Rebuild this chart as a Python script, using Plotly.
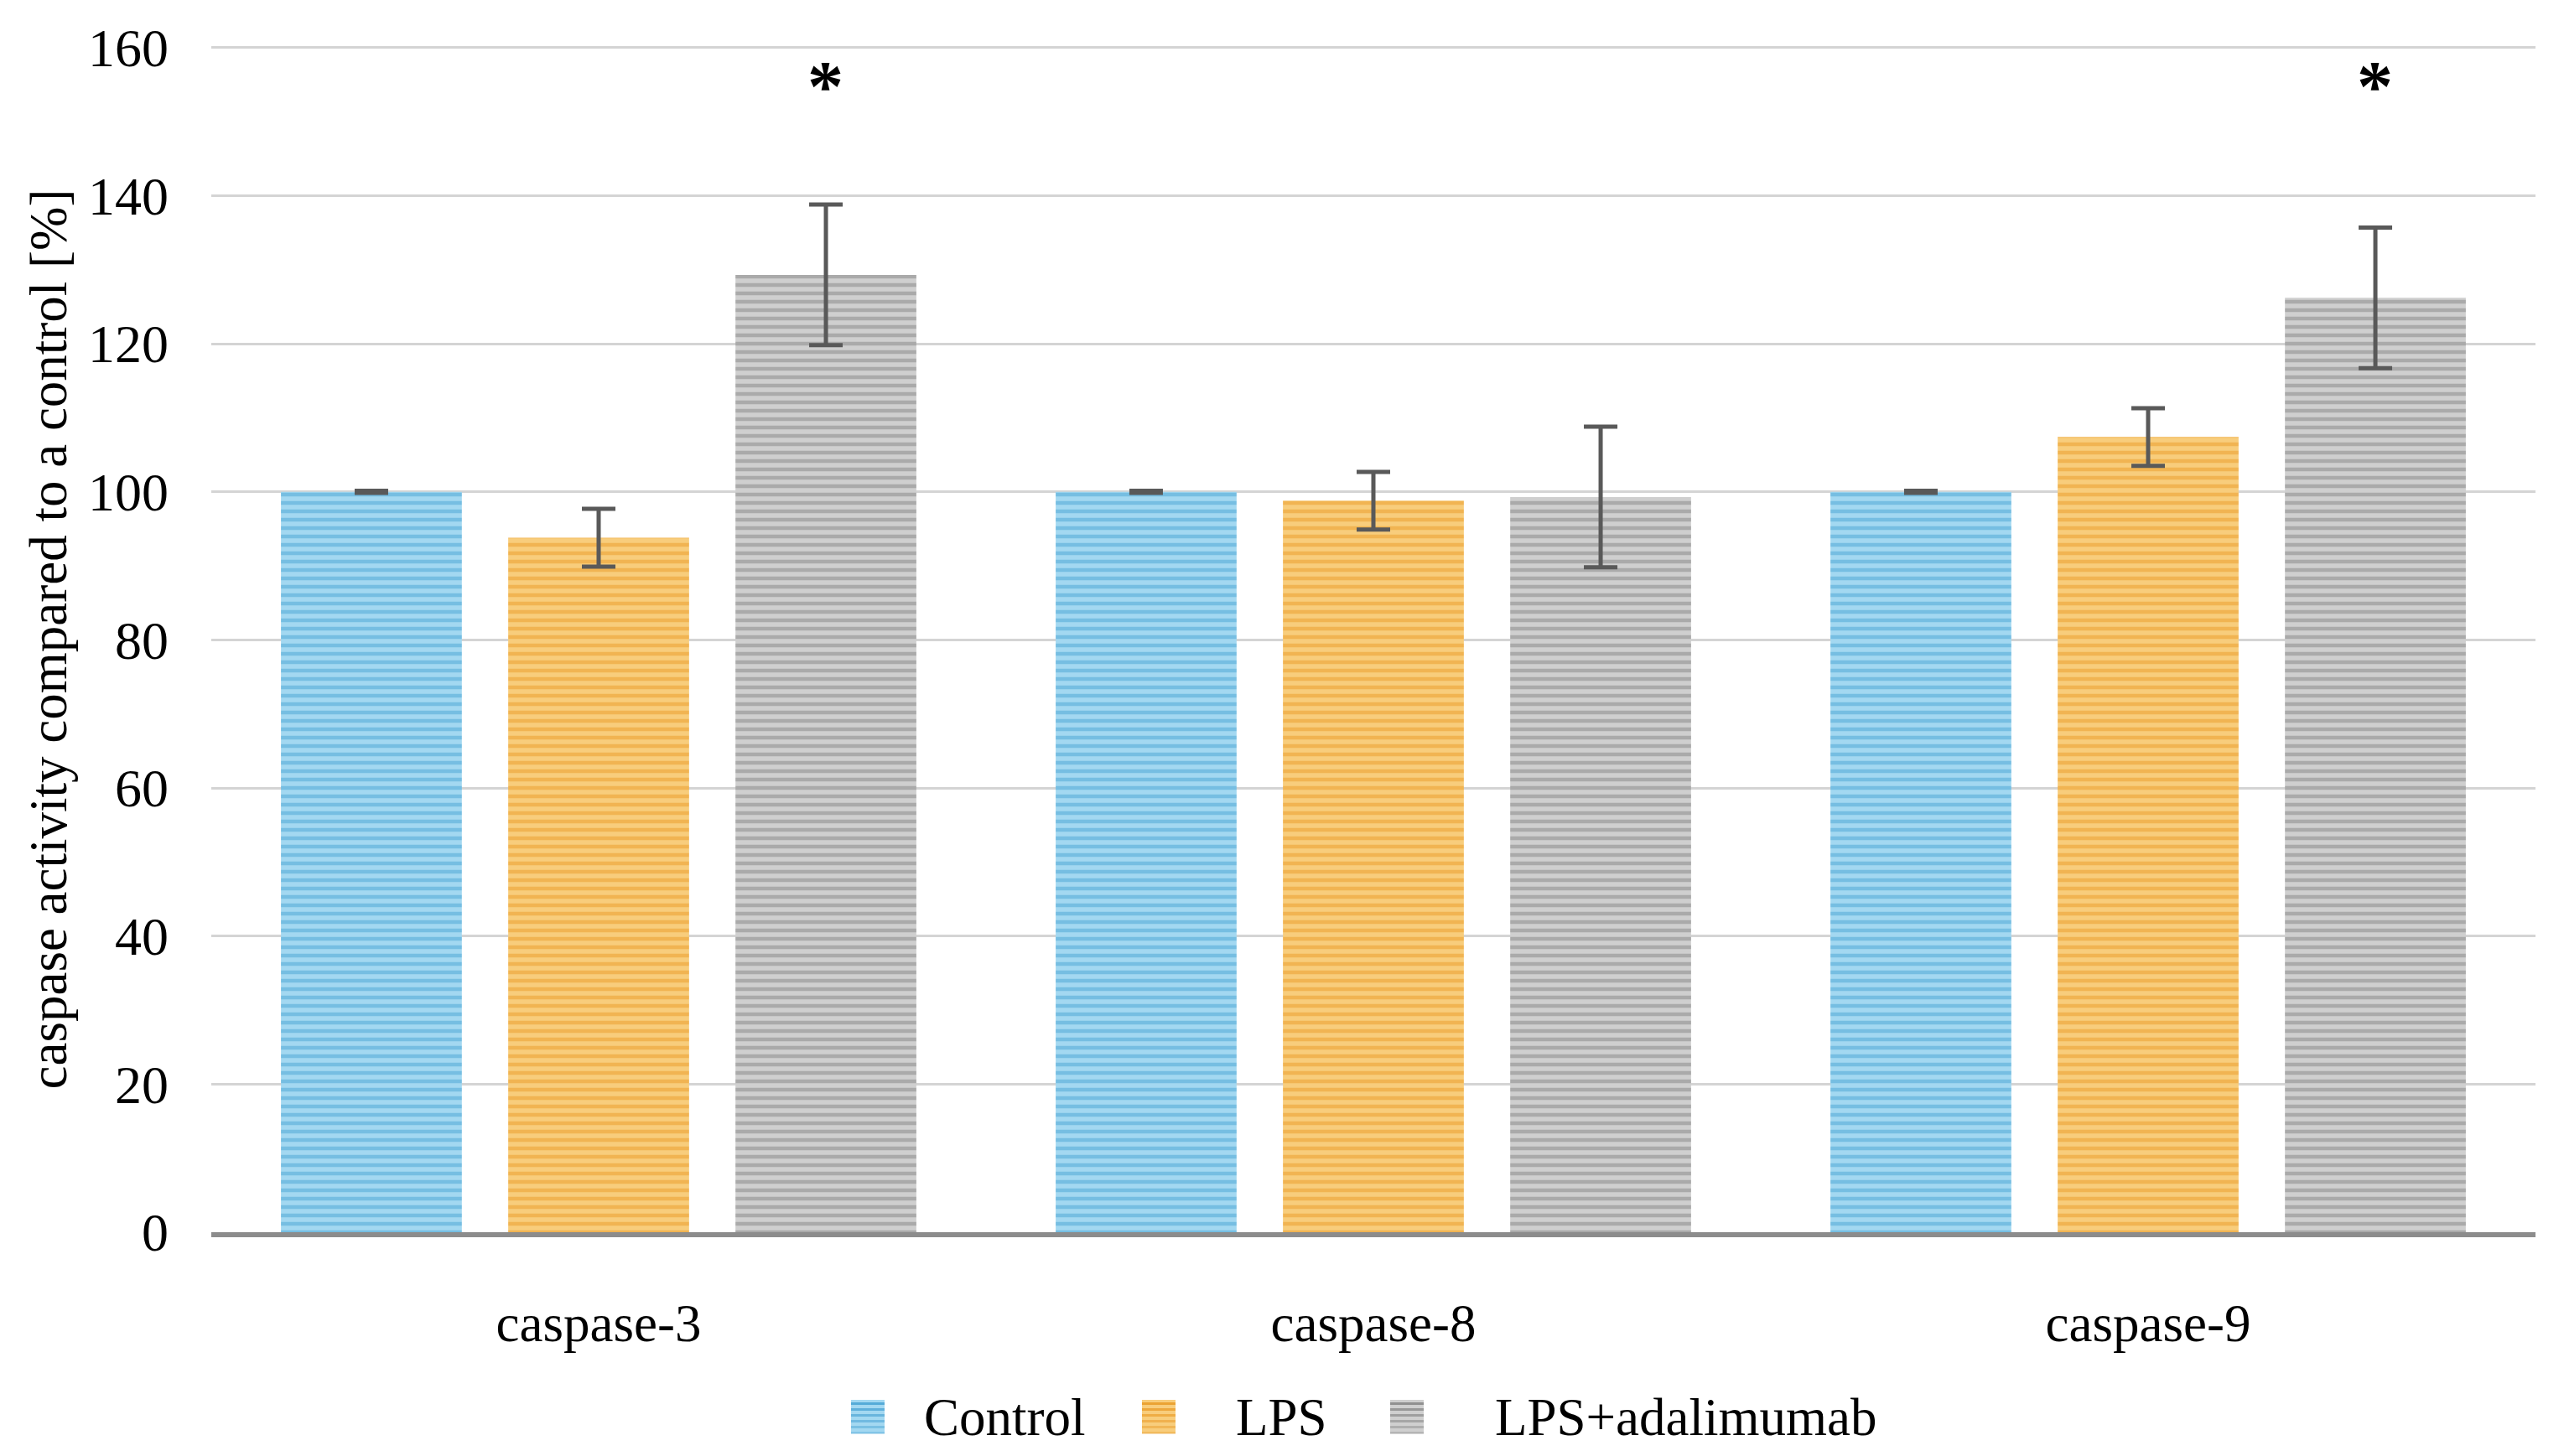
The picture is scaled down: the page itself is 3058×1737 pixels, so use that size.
import plotly.graph_objects as go

categories = ["caspase-3", "caspase-8", "caspase-9"]
series_names = ["Control", "LPS", "LPS+adalimumab"]
control_vals = [100.0, 100.0, 100.0]
control_err = [0.15, 0.15, 0.15]
lps_vals = [93.8, 98.8, 107.4]
lps_err = [3.9, 3.9, 3.9]
ada_vals = [129.3, 99.3, 126.2]
ada_err = [9.5, 9.5, 9.5]
star_cats = ["caspase-3", "caspase-9"]
star_y = [154.8, 154.8]
y_ticks = [0, 20, 40, 60, 80, 100, 120, 140, 160]

FONT = "Liberation Serif"
bg_colors = ["#a3d8f1", "#f8cd7c", "#cfcfcf"]
fg_colors = ["#49a3d3", "#e99b28", "#858585"]
vals = [control_vals, lps_vals, ada_vals]
errs = [control_err, lps_err, ada_err]

W, H = 3058, 1737
ML, MR, MT, MB = 244, 42, 47, 275
PW = W - ML - MR
PH = H - MT - MB

fig = go.Figure()
for name, v, e, bg, fg in zip(series_names, vals, errs, bg_colors, fg_colors):
    fig.add_trace(go.Bar(
        name=name, x=categories, y=v, showlegend=False,
        marker=dict(color=bg, line=dict(width=0),
                    pattern=dict(shape="-", fgcolor=fg, bgcolor=bg, size=10, solidity=0.45)),
        error_y=dict(type="data", array=e, visible=True, color="#595959", thickness=5, width=20),
    ))

for c, yv in zip(star_cats, star_y):
    fig.add_annotation(x=c, y=yv, text="<b>*</b>", showarrow=False, xshift=270,
                       font=dict(family=FONT, size=86, color="black"), yanchor="middle")

# custom legend (figure pixel positions -> paper coords)
def px_x(x):
    return (x - ML) / PW

def px_y(y):
    return (H - MB - y) / PH

legend_sym_x = [1007, 1354, 1650]
legend_txt_x = [1092, 1464, 1773]
sym_top, sym_size = 1662, 40
txt_y = 1683
for name, sx, tx, bg, fg in zip(series_names, legend_sym_x, legend_txt_x, bg_colors, fg_colors):
    fig.add_shape(type="rect", xref="paper", yref="paper",
                  x0=px_x(sx), x1=px_x(sx + sym_size), y0=px_y(sym_top + sym_size), y1=px_y(sym_top),
                  fillcolor=bg, line=dict(width=0))
    for k in range(6):
        yy = sym_top + 3 + k * 7
        fig.add_shape(type="rect", xref="paper", yref="paper",
                      x0=px_x(sx), x1=px_x(sx + sym_size), y0=px_y(yy + 3), y1=px_y(yy),
                      fillcolor=fg, line=dict(width=0), opacity=0.85 - k * 0.1)
    fig.add_annotation(xref="paper", yref="paper", x=px_x(tx), y=px_y(txt_y), text=name,
                       showarrow=False, xanchor="left", yanchor="middle",
                       font=dict(family=FONT, size=63, color="black"))

fig.update_layout(
    width=W, height=H,
    paper_bgcolor="white", plot_bgcolor="white",
    margin=dict(l=ML, r=MR, t=MT, b=MB),
    barmode="group", bargap=0.12, bargroupgap=0.204,
    font=dict(family=FONT, size=63, color="black"),
    showlegend=False,
)
fig.update_xaxes(showline=True, linecolor="#8c8c8c", linewidth=6, ticks="",
                 tickfont=dict(family=FONT, size=63), ticklabelstandoff=48, showgrid=False)
fig.update_yaxes(range=[0, 160.2], tickvals=y_ticks, showgrid=True, gridcolor="#d4d4d4", gridwidth=2.5,
                 zeroline=False, showline=False, ticks="", tickfont=dict(family=FONT, size=64),
                 ticklabelstandoff=50,
                 title=dict(text="caspase activity compared to a control [%]",
                            font=dict(family=FONT, size=63), standoff=4))

fig.write_html("out.html")
